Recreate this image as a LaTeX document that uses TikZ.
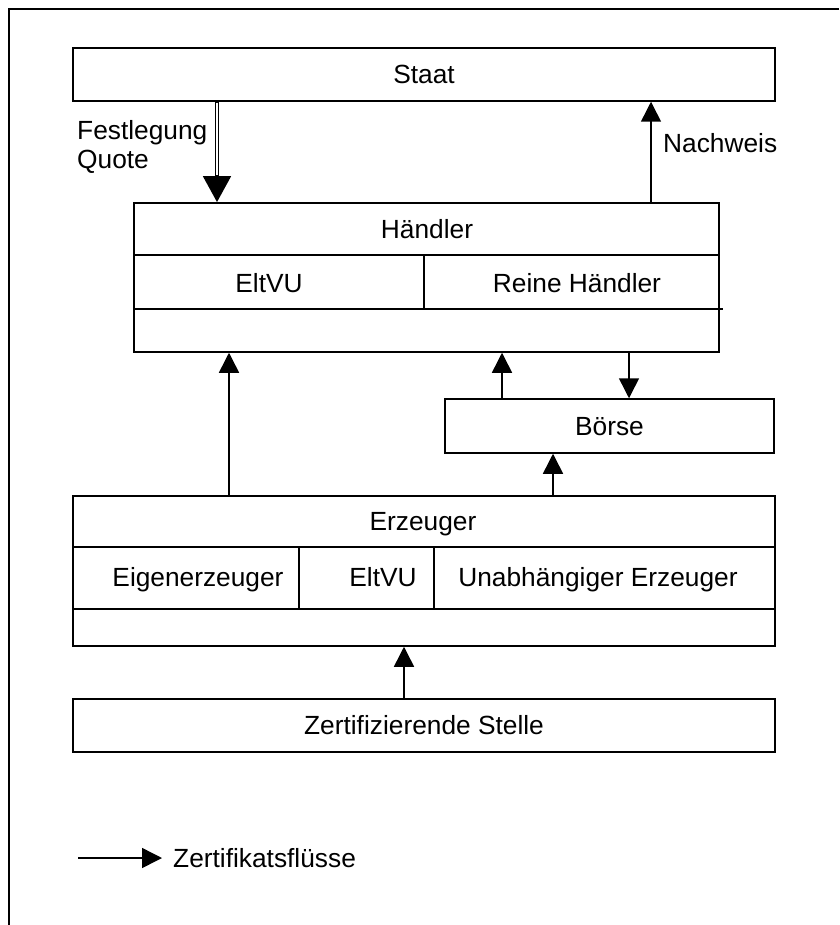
\documentclass[tikz,border=0pt]{standalone}
\usepackage{fontspec}
\setmainfont{Liberation Sans}
\usetikzlibrary{arrows.meta}
\begin{document}
\begin{tikzpicture}[x=1pt,y=-1pt,
  every node/.style={font=\fontsize{26.3}{31}\selectfont, inner sep=0pt},
  txt/.style={text height=18.8pt, text depth=0pt},
  box/.style={draw, line width=1.5pt, rectangle, inner sep=0pt, txt},
  rule/.style={line width=1.5pt},
  flow/.style={line width=1.5pt, -{Triangle[length=20pt,width=20pt]}},
  bigflow/.style={line width=4.5pt, -{Triangle[length=26pt,width=27pt]}},
  lbl/.style={anchor=west}]
\useasboundingbox (0,0) rectangle (839,925);
% outer frame (top and left edges only)
\draw[line width=2pt] (839,9) -- (9,9) -- (9,925);

% boxes
\node[box, minimum width=702pt, minimum height=53pt] (staat) at (424,74.5) {Staat};
\node[box, minimum width=585pt, minimum height=149pt] (haendler) at (426.5,277.5) {};
\node[box, minimum width=329pt, minimum height=54pt] (boerse) at (609.5,426) {Börse};
\node[box, minimum width=702pt, minimum height=150pt] (erz) at (424,571) {};
\node[box, minimum width=702pt, minimum height=53pt] (zert) at (424,725.5) {Zertifizierende Stelle};

% Händler compartments
\draw[rule] (haendler.west |- 0,255) -- (haendler.east |- 0,255);
\draw[rule] (haendler.west |- 0,309) -- ([xshift=3pt]haendler.east |- 0,309);
\draw[rule] (424,255) -- (424,309);
\node[txt] (hT) at (427,229) {Händler};
\node[txt] (hE) at (269,283) {EltVU};
\node[txt] (hR) at (577,283) {Reine Händler};

% Erzeuger compartments
\draw[rule] (erz.west |- 0,547) -- (erz.east |- 0,547);
\draw[rule] (erz.west |- 0,609) -- (erz.east |- 0,609);
\draw[rule] (299,547) -- (299,609);
\draw[rule] (434,547) -- (434,609);
\node[txt] (eT) at (423,521) {Erzeuger};
\node[txt] (eE) at (198,577) {Eigenerzeuger};
\node[txt] (eV) at (383,577) {EltVU};
\node[txt] (eU) at (598,577) {Unabhängiger Erzeuger};

% connector columns
\coordinate (c0) at (217,0);
\coordinate (c1) at (651,0);
\coordinate (c2) at (229,0);
\coordinate (c3) at (502,0);
\coordinate (c4) at (629,0);
\coordinate (c5) at (553,0);
\coordinate (c6) at (404,0);

% Festlegung Quote (double-lined arrow)
\draw[bigflow] (staat.south -| c0) -- (haendler.north -| c0);
\draw[white, line width=1.6pt, shorten >=27pt, shorten <=0.8pt] (staat.south -| c0) -- (haendler.north -| c0);
\node[lbl, align=left, font=\fontsize{26.3}{29}\selectfont] (fq) at (77,147) {Festlegung\\Quote};

% Nachweis
\draw[flow] (haendler.north -| c1) -- (staat.south -| c1);
\node[lbl, txt] (nw) at (663,143) {Nachweis};

% certificate flows
\draw[flow] (erz.north -| c2) -- (haendler.south -| c2);
\draw[flow] (boerse.north -| c3) -- (haendler.south -| c3);
\draw[flow] (haendler.south -| c4) -- (boerse.north -| c4);
\draw[flow] (erz.north -| c5) -- (boerse.south -| c5);
\draw[flow] (zert.north -| c6) -- (erz.south -| c6);

% legend
\coordinate (lg) at (78,858);
\node[lbl, txt] (lgt) at (173,858) {Zertifikatsflüsse};
\draw[flow] (lg) -- ([xshift=-11pt]lgt.west);
\end{tikzpicture}
\end{document}
